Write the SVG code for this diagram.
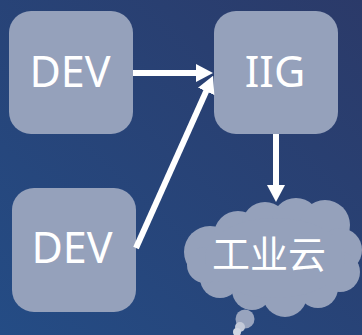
<svg xmlns="http://www.w3.org/2000/svg" width="362" height="335" viewBox="0 0 362 335">
<defs>
<linearGradient id="bg" x1="1" y1="0" x2="0" y2="1">
<stop offset="0" stop-color="#2b3a69"/>
<stop offset="1" stop-color="#244c85"/>
</linearGradient>
<marker id="ah" viewBox="0 0 17 18" markerWidth="17" markerHeight="18" markerUnits="userSpaceOnUse" refX="7" refY="9" orient="auto">
<path d="M0,0 L17,9 L0,18 Z" fill="#ffffff"/>
</marker>
<style>
.box{fill:#95a1bb;}
.lbl{font-family:"Noto Sans","Liberation Sans",sans-serif;font-size:43px;fill:#ffffff;text-anchor:middle;}
.cjk{font-family:"Noto Sans CJK SC","Noto Sans",sans-serif;font-size:38px;fill:#ffffff;text-anchor:middle;}
.conn{stroke:#ffffff;stroke-width:6;fill:none;marker-end:url(#ah);}
.cl{fill:#95a1bb;}
</style>
</defs>
<rect width="362" height="335" fill="url(#bg)"/>
<g id="dev1">
<rect class="box" x="9" y="11" width="124" height="123" rx="22"/>
<text class="lbl" x="70" y="87">DEV</text>
</g>
<g id="iig">
<rect class="box" x="214" y="11" width="124" height="123" rx="22"/>
<text class="lbl" x="275" y="87">IIG</text>
</g>
<g id="dev2">
<rect class="box" x="12" y="188" width="124" height="124" rx="22"/>
<text class="lbl" x="72" y="263">DEV</text>
</g>
<g id="cloud">
<g class="cl">
<circle cx="210" cy="252" r="26"/>
<circle cx="238" cy="235" r="24"/>
<circle cx="265" cy="225" r="23"/>
<circle cx="296" cy="222" r="24"/>
<circle cx="325" cy="225" r="25"/>
<circle cx="340" cy="250" r="22"/>
<circle cx="340" cy="272" r="20"/>
<circle cx="318" cy="288" r="20"/>
<circle cx="285" cy="295" r="22"/>
<circle cx="252" cy="290" r="20"/>
<circle cx="220" cy="278" r="20"/>
<circle cx="205" cy="265" r="18"/>
<ellipse cx="275" cy="258" rx="70" ry="40"/>
</g>
<circle cx="245" cy="319" r="9.5" fill="#98a4be"/>
<circle cx="240" cy="327" r="5" fill="#c3cad9"/>
<circle cx="237" cy="332" r="4" fill="#d0d6e2"/>
<text class="cjk" x="269" y="268">工业云</text>
</g>
<g id="connectors">
<line class="conn" x1="133" y1="73" x2="203" y2="73"/>
<line class="conn" x1="136" y1="248" x2="209" y2="85"/>
<line class="conn" x1="276" y1="134" x2="276" y2="192"/>
</g>
</svg>
